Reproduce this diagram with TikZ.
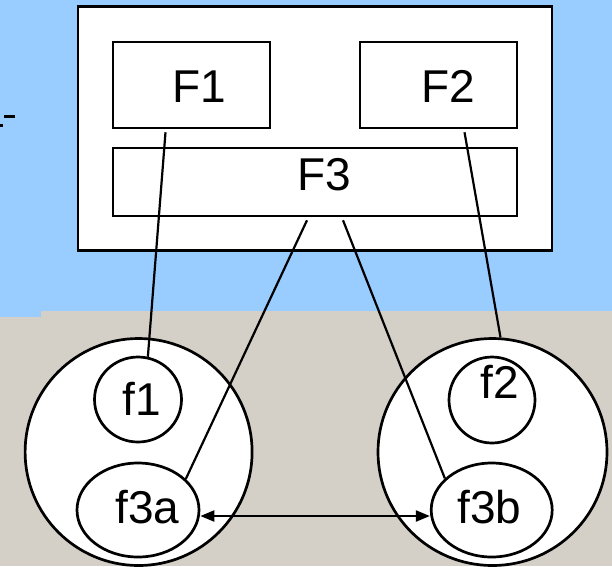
\documentclass[tikz,border=0pt]{standalone}
\usepackage{fontspec}
\setmainfont{Liberation Sans}
\usetikzlibrary{arrows.meta,shapes.geometric}
\definecolor{skyblue}{HTML}{99CCFF}
\definecolor{panelgrey}{HTML}{D4D0C8}
\tikzset{
  box/.style={draw=black,fill=white,line width=2.5pt,rectangle,inner sep=0pt},
  ring/.style={draw=black,fill=white,line width=2.7pt,ellipse,inner sep=0pt},
  lbl/.style={anchor=base,inner sep=0pt,font=\fontsize{46}{50}\selectfont},
  link/.style={draw=black,line width=2.2pt},
  dbl/.style={draw=black,line width=2.2pt,{Triangle[length=14pt,width=11pt]}-{Triangle[length=14pt,width=11pt]}}
}
\begin{document}
\begin{tikzpicture}[x=1pt,y=-1pt]
\useasboundingbox (0,0) rectangle (612,566);
% background
\fill[panelgrey] (0,0) rectangle (612,566);
\fill[skyblue] (0,0) rectangle (612,311);
\fill[skyblue] (0,311) rectangle (41,317);
% fragment at left edge
\fill[black] (4,115) rectangle (15,117.5);
\fill[black] (0,124) rectangle (3,127);
% top system
\node[box,minimum width=474pt,minimum height=244pt] (outer) at (315,128.5) {};
\node[box,minimum width=157pt,minimum height=86pt] (F1) at (191.5,85) {};
\node[box,minimum width=157pt,minimum height=86pt] (F2) at (438.5,85) {};
\node[box,minimum width=404pt,minimum height=68pt] (F3) at (315,182) {};
\node[lbl] (F1t) at (199,102) {F1};
\node[lbl] (F2t) at (448,102) {F2};
\node[lbl] (F3t) at (324.5,190) {F3};
% bottom systems
\node[ring,minimum width=227pt,minimum height=227pt] (L) at (138.6,452) {};
\node[ring,minimum width=229pt,minimum height=227pt] (R) at (492.5,452) {};
\node[ring,minimum width=87pt,minimum height=85pt] (f1) at (138,399.5) {};
\node[ring,minimum width=86pt,minimum height=86pt] (f2) at (492,400) {};
\node[ring,minimum width=122pt,minimum height=94pt] (f3a) at (138,510) {};
\node[ring,minimum width=121pt,minimum height=94pt] (f3b) at (491.7,510) {};
\node[lbl] (f1t) at (142,415) {f1};
\node[lbl] (f2t) at (500,398) {f2};
\node[lbl] (f3at) at (147.5,523) {f3a};
\node[lbl] (f3bt) at (489.5,523) {f3b};
% connectors
\draw[link] ([shift={(-26pt,-3pt)}]F1.south) -- (f1.77);
\draw[link] ([shift={(26pt,-3pt)}]F2.south) -- (R.86);
\draw[link] ([shift={(-8pt,-3pt)}]F3.south) -- (f3a.33);
\draw[link] ([shift={(28pt,-3pt)}]F3.south) -- (f3b.146);
\draw[dbl] ([yshift=-6pt]f3a.east) -- ([yshift=-6pt]f3b.west);
\end{tikzpicture}
\end{document}
